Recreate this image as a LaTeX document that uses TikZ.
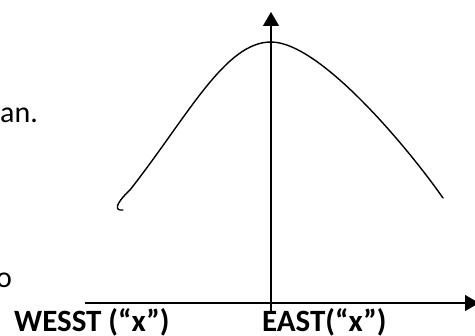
\documentclass[tikz,border=0pt]{standalone}
\usepackage{fontspec}
\setmainfont{Carlito}
\usetikzlibrary{arrows.meta}

\begin{document}
\begin{tikzpicture}[x=1pt,y=1pt,
  axis/.style={line width=1.4pt,-{Triangle[width=16pt,length=14pt]}},
  bell/.style={line width=1.4pt,line cap=round,line join=round},
  txt/.style={inner sep=0pt,anchor=base west,font=\fontsize{30}{36}\selectfont},
  lbl/.style={txt,font=\fontsize{31}{36}\selectfont\bfseries}]
\useasboundingbox (0,0) rectangle (475,336);
% axes
\coordinate (ybot) at (271,23);
\coordinate (ytop) at (271,324);
\coordinate (xleft) at (85,33);
\coordinate (xright) at (479,33);
\draw[axis] (ybot) -- (ytop);
\draw[axis] (xleft) -- (xright);
% curve
\coordinate (hook) at (123,126);
\coordinate (peak) at (271,294);
\coordinate (rend) at (443,138);
\draw[bell] (hook) .. controls (115,125) and (114,131) .. (130,146)
  .. controls (188,220) and (225,294) .. (peak)
  .. controls (320,294) and (408,188) .. (rend);
% texts
\node[txt] (an) at (0,213) {an.};
\node[txt] (o) at (-4,48) {o};
\node[lbl] (west) at (14,4) {WESST (“x”)};
\node[lbl] (east) at (262,4) {EAST(“x”)};
\end{tikzpicture}
\end{document}
